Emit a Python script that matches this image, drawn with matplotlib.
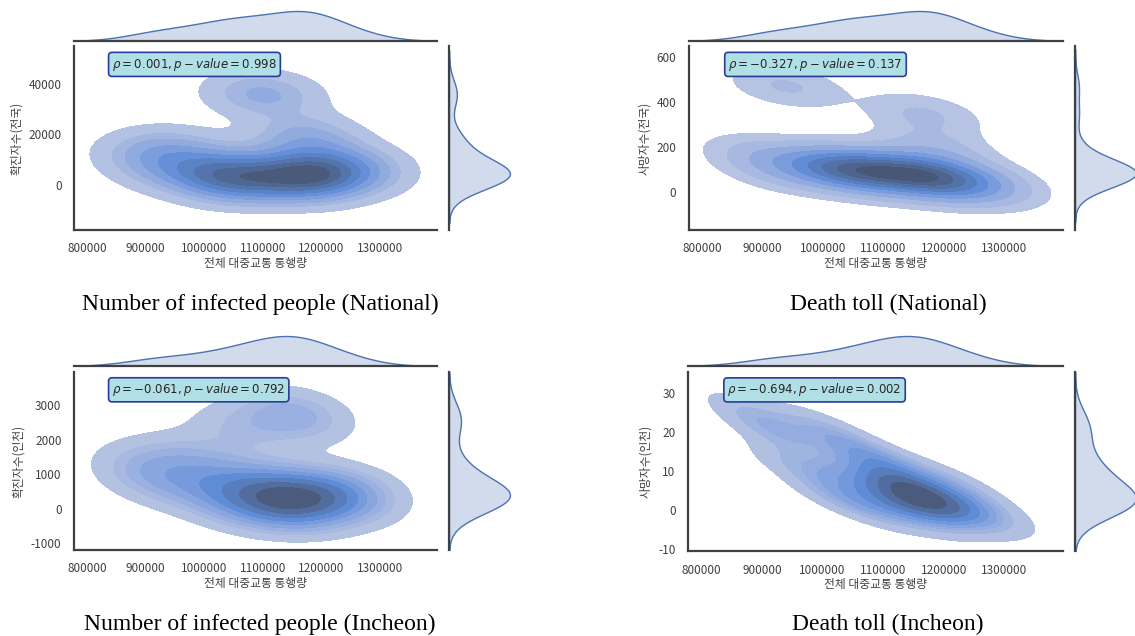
#Joint KDE plots: public transport traffic vs COVID-19 cases / deaths

import numpy as np
import pandas as pd
import matplotlib
matplotlib.use('Agg')
import matplotlib.pyplot as plt
import seaborn as sns

#Data (monthly values)
traffic_nat=[900000,940000,935000,1080000,1120000,1165000,1000000,1030000,1050000,1070000,1060000,
             1120000,1150000,1165000,1180000,1195000,1210000,1240000,1270000,1010000,1175000,1185000]
infected_nat=[12000,15000,6000,37000,35000,20000,4000,2000,3000,1000,2500,
              4000,3000,5000,2000,6000,3500,8000,5000,9000,1500,17000]
deaths_nat=[160,470,90,100,90,345,110,100,80,110,70,
            90,60,50,75,40,65,40,30,110,100,200]

traffic_inc=[895000,930000,965000,1000000,1030000,1060000,1080000,1100000,1120000,1135000,1150000,
             1160000,1175000,1190000,1210000,1230000,1260000,1050000,1110000,1170000,1140000]
infected_inc=[1200,800,1500,700,300,2300,100,200,300,2800,150,
              400,250,400,300,500,400,1000,600,2600,50]
deaths_inc=[24,19,11,21,3,15,1,9,1,6,3,
            0,5,2,7,0,1,8,12,3,2]

x_ticks=[800000,900000,1000000,1100000,1200000,1300000]
stats=['$\\rho=0.001, p-value=0.998$',
       '$\\rho=-0.327, p-value=0.137$',
       '$\\rho=-0.061, p-value=0.792$',
       '$\\rho=-0.694, p-value=0.002$']
ylabels=['확진자수(전국)','사망자수(전국)','확진자수(인천)','사망자수(인천)']
yticks=[[0,20000,40000],[0,200,400,600],[-1000,0,1000,2000,3000],[-10,0,10,20,30]]
ylims=[(-18000,55200),(-171,650),(-1200,3960),(-10.5,35.4)]
captions=['Number of infected people (National)','Death toll (National)',
          'Number of infected people (Incheon)','Death toll (Incheon)']

sns.set_style('white')
plt.rcParams['font.family']=['Noto Sans CJK KR','DejaVu Sans']
plt.rcParams['axes.unicode_minus']=False
col='#4c72b0'

W,H=1135,636
fig=plt.figure(figsize=(W/100,H/100),dpi=100)

def box(x0,y0,x1,y1):
    return [x0/W,1-y1/H,(x1-x0)/W,(y1-y0)/H]

#pixel layout of each joint grid: joint box, marginal-x baseline, marginal-y left edge
layout=[((74,46,437,230),41,449),
        ((689,46,1063,230),41,1075),
        ((74,372,437,550),366,449),
        ((688,372,1063,551),366,1075)]
datasets=[(traffic_nat,infected_nat),(traffic_nat,deaths_nat),
          (traffic_inc,infected_inc),(traffic_inc,deaths_inc)]
cap_pos=[(260,304),(888,304),(260,624),(888,624)]

for i in range(4):
    (jx0,jy0,jx1,jy1),mb,ml=layout[i]
    x,y=datasets[i]
    ax=fig.add_axes(box(jx0,jy0,jx1,jy1))
    mx=fig.add_axes(box(jx0,mb-31.5,jx1,mb),sharex=ax)
    my=fig.add_axes(box(ml,jy0,ml+64,jy1),sharey=ax)

    sns.kdeplot(x=x,y=y,fill=True,ax=ax,color=col)
    sns.kdeplot(x=x,fill=True,ax=mx,linewidth=1,color=col)
    sns.kdeplot(y=y,fill=True,ax=my,linewidth=1,color=col)

    ax.set_xlim(778000,1397000)
    ax.set_ylim(*ylims[i])
    ax.set_xticks(x_ticks)
    ax.set_xticklabels([str(t) for t in x_ticks],fontsize=8.5,color='.25')
    ax.set_yticks(yticks[i])
    ax.set_yticklabels([str(t) for t in yticks[i]],fontsize=8.5,color='.25')
    ax.set_xlabel('전체 대중교통 통행량',fontsize=8.5,color='.25',labelpad=1)
    ax.set_ylabel(ylabels[i],fontsize=8.5,color='.25',labelpad=4)
    ax.tick_params(length=0,pad=9)
    sns.despine(ax=ax)

    for m in (mx,my):
        m.set_xlabel('')
        m.set_ylabel('')
        m.tick_params(length=0,labelbottom=False,labelleft=False)
    sns.despine(ax=mx,left=True)
    sns.despine(ax=my,bottom=True)
    for a in (ax,mx,my):
        for s in a.spines.values():
            s.set_linewidth(1.6)
            s.set_color('.25')

    ax.text(0.105,0.9,stats[i],transform=ax.transAxes,fontsize=8.5,va='center',ha='left',color='.15',
            bbox=dict(boxstyle='round,pad=0.3',fc='powderblue',ec='#2a3b9a',lw=1.2))

    fig.text(cap_pos[i][0]/W,1-cap_pos[i][1]/H,captions[i],ha='center',va='center',
             family='Liberation Serif',fontsize=17,color='black')

plt.savefig('out.png',dpi=100)
